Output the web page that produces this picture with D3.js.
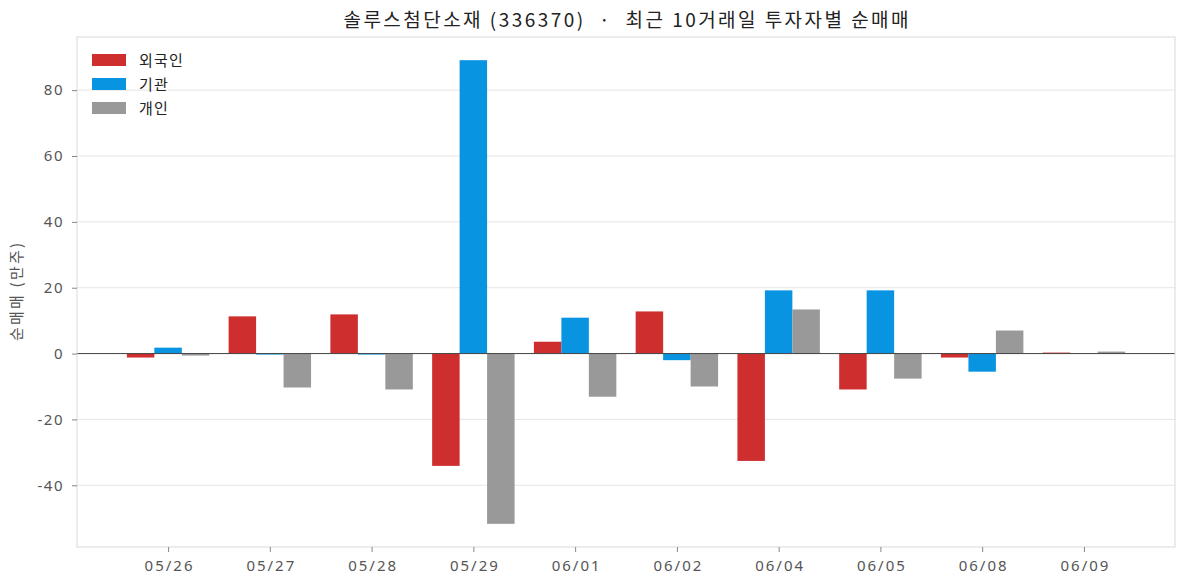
<!DOCTYPE html>
<html>
<head>
<meta charset="utf-8">
<script src="https://cdn.jsdelivr.net/npm/d3@7"></script>
<style>
  body { margin: 0; background: #fff; }
  svg { font-family: "Noto Sans CJK KR", "Noto Sans", sans-serif; }
</style>
</head>
<body>
<svg width="1187" height="587"></svg>
<script>
// data (만주)
const dates = ["05/26", "05/27", "05/28", "05/29", "06/01", "06/02", "06/04", "06/05", "06/08", "06/09"];
const foreign = [-1.2, 11.3, 11.9, -34.1, 3.6, 12.8, -32.6, -10.9, -1.2, 0.3];
const institution = [1.8, -0.3, -0.3, 89.1, 10.9, -2.0, 19.2, 19.2, -5.5, 0.0];
const individual = [-0.6, -10.3, -10.9, -51.7, -13.1, -10.0, 13.4, -7.6, 7.0, 0.6];
const seriesNames = ["외국인", "기관", "개인"];
const colors = ["#cf2e2e", "#0994e2", "#999999"];
const yTicks = [-40, -20, 0, 20, 40, 60, 80];

const margin = {top: 37, right: 12, bottom: 40, left: 77},
  width = 1187 - margin.left - margin.right,
  height = 587 - margin.top - margin.bottom;

const svg = d3.select("svg");
const g = svg.append("g").attr("transform", `translate(${margin.left}, ${margin.top})`);

const series = [foreign, institution, individual];
const barW = 0.27;

// x in index units, padded like matplotlib
const x = d3.scaleLinear().domain([-0.895, dates.length - 1 + 0.895]).range([0, width]);
const allVals = series.flat();
const yMin = d3.min(allVals), yMax = d3.max(allVals);
const pad = (yMax - yMin) * 0.05;
const y = d3.scaleLinear().domain([yMin - pad, yMax + pad]).range([height, 0]);

// grid
g.selectAll(".grid")
  .data(yTicks)
  .join("line")
  .attr("x1", 0).attr("x2", width)
  .attr("y1", d => y(d)).attr("y2", d => y(d))
  .attr("stroke", "#e6e6e6")
  .attr("stroke-width", 1);

// bars
series.forEach((vals, s) => {
  g.selectAll(".bar" + s)
    .data(vals)
    .join("rect")
    .attr("x", (d, i) => x(i + (s - 1) * barW - barW / 2))
    .attr("width", x(barW) - x(0))
    .attr("y", d => y(Math.max(0, d)))
    .attr("height", d => Math.abs(y(d) - y(0)))
    .attr("fill", colors[s]);
});

// zero line
g.append("line")
  .attr("x1", 0).attr("x2", width)
  .attr("y1", y(0)).attr("y2", y(0))
  .attr("stroke", "#444")
  .attr("stroke-width", 1);

// frame
g.append("rect")
  .attr("width", width).attr("height", height)
  .attr("fill", "none")
  .attr("stroke", "#d9d9d9");

// y axis
const yAxis = g.append("g")
  .call(d3.axisLeft(y).tickValues(yTicks).tickSize(5).tickPadding(8).tickFormat(d => String(d)));
yAxis.select(".domain").remove();
yAxis.selectAll("line").attr("stroke", "#888");
yAxis.selectAll("text").attr("fill", "#555").style("font-size", "15px")
  .style("letter-spacing", "1.5px")
  .style("font-family", "'Noto Sans', sans-serif");

// x axis
const xAxis = g.append("g")
  .attr("transform", `translate(0, ${height})`)
  .call(d3.axisBottom(x).tickValues(d3.range(dates.length)).tickSize(5).tickPadding(8)
    .tickFormat(i => dates[i]));
xAxis.select(".domain").remove();
xAxis.selectAll("line").attr("stroke", "#888");
xAxis.selectAll("text").attr("fill", "#555").style("font-size", "15px")
  .style("letter-spacing", "2px")
  .attr("dx", "1px")
  .style("font-family", "'Noto Sans', sans-serif");

// y label
svg.append("text")
  .attr("transform", `translate(22, ${margin.top + height / 2}) rotate(-90)`)
  .attr("text-anchor", "middle")
  .attr("fill", "#555")
  .style("font-size", "15px")
  .attr("textLength", 98)
  .attr("lengthAdjust", "spacing")
  .text("순매매 (만주)");

// title
svg.append("text")
  .attr("x", margin.left + width / 2)
  .attr("y", 27)
  .attr("text-anchor", "middle")
  .attr("fill", "#222")
  .style("font-size", "19px")
  .style("white-space", "pre")
  .attr("textLength", 565)
  .attr("lengthAdjust", "spacing")
  .text("솔루스첨단소재 (336370)  ·  최근 10거래일 투자자별 순매매");

// legend
const legend = g.append("g").attr("transform", "translate(15, 17)");
seriesNames.forEach((name, s) => {
  legend.append("rect")
    .attr("x", 0).attr("y", s * 24)
    .attr("width", 34).attr("height", 12)
    .attr("fill", colors[s]);
  legend.append("text")
    .attr("x", 47).attr("y", s * 24 + 12)
    .attr("fill", "#222")
    .style("font-size", "15px")
    .style("letter-spacing", "1.2px")
    .text(name);
});
</script>
</body>
</html>
